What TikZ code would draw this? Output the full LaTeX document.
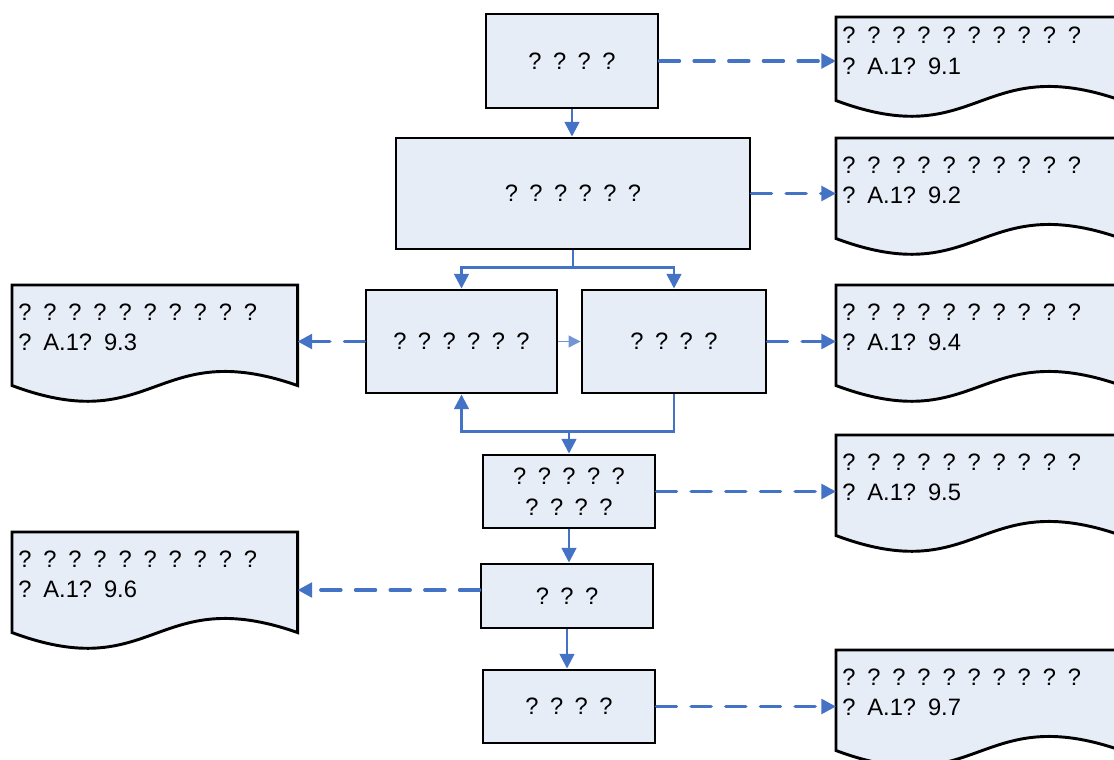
\documentclass[tikz,border=0pt]{standalone}
\usepackage{fontspec}
\setmainfont{Liberation Sans}[WordSpace=1.4]
\usetikzlibrary{arrows.meta,calc,backgrounds}
\definecolor{boxfill}{HTML}{E7EDF7}
\definecolor{linkblue}{HTML}{4472C4}
\begin{document}
\begin{tikzpicture}[x=0.75pt,y=-0.75pt,
  every node/.style={font=\fontsize{17.8pt}{23pt}\selectfont},
  box/.style={draw,line width=2.2pt,fill=boxfill,align=center,inner sep=0pt},
  doc/.style={anchor=north west,minimum width=213.75pt,minimum height=63pt,text width=204.75pt,inner xsep=4.5pt,inner ysep=0pt,align=left},
  docline/.style={draw,line width=2.2pt,fill=boxfill},
  flow/.style={draw=linkblue,line width=1.8pt,-{Triangle[length=11pt,width=11pt]}},
  ref/.style={flow,line width=2.6pt,line cap=round,dash pattern=on 15pt off 11pt}]
\useasboundingbox (0,0) rectangle (1114,760);

\node[box,minimum width=129pt,minimum height=70.5pt] (b1) at (572,61) {? ? ? ?};
\node[box,minimum width=265.5pt,minimum height=83.25pt] (b2) at (573,193.5) {? ? ? ? ? ?};
\node[box,minimum width=143.25pt,minimum height=77.25pt] (b3) at (461.5,341.5) {? ? ? ? ? ?};
\node[box,minimum width=138pt,minimum height=77.25pt] (b4) at (674,341.5) {? ? ? ?};
\node[box,minimum width=129pt,minimum height=54.75pt] (b5) at (569,491.5) {? ? ? ? ?\\? ? ? ?};
\node[box,minimum width=129pt,minimum height=48pt] (b6) at (567,596) {? ? ?};
\node[box,minimum width=129pt,minimum height=54.75pt] (b7) at (569,706.5) {? ? ? ?};

\node[doc,minimum height=50.25pt] (d1) at (836,17) {? ? ? ? ? ? ? ? ? ?\\? A.1? 9.1};
\node[doc] (d2) at (836,138) {? ? ? ? ? ? ? ? ? ?\\? A.1? 9.2};
\node[doc] (d3) at (12,285) {? ? ? ? ? ? ? ? ? ?\\? A.1? 9.3};
\node[doc] (d4) at (836,285) {? ? ? ? ? ? ? ? ? ?\\? A.1? 9.4};
\node[doc] (d5) at (836,435) {? ? ? ? ? ? ? ? ? ?\\? A.1? 9.5};
\node[doc] (d6) at (12,532) {? ? ? ? ? ? ? ? ? ?\\? A.1? 9.6};
\node[doc] (d7) at (836,650) {? ? ? ? ? ? ? ? ? ?\\? A.1? 9.7};

\begin{scope}[on background layer]
\foreach \doc in {d1,d2,d3,d4,d5,d6,d7}
  \path[docline] (\doc.north west) -- (\doc.north east) -- ([yshift=-12pt]\doc.south east)
    .. controls ($([yshift=-12pt]\doc.south)+(0pt,37.5pt)$) and ($([yshift=-12pt]\doc.south)+(0pt,-40pt)$) .. ([yshift=-12pt]\doc.south west) -- cycle;
\end{scope}

\draw[flow] (b1.south) -- (b1.south |- b2.north);
\draw[flow] (b2.south) -- ++(0,17) -| (b3.north);
\draw[flow] (b2.south) -- ++(0,17) -| (b4.north);
\draw[flow,draw=linkblue!75,line width=0.9pt,-{Triangle[length=9pt,width=9pt]}] (b3) -- (b4);
\draw[flow] (b4.south) -- ++(0,37) coordinate (j) -| (b3.south);
\draw[flow] (j -| b5.north) -- (b5.north);
\draw[flow] (b5.south) -- (b5.south |- b6.north);
\draw[flow] (b6.south) -- (b6.south |- b7.north);

\draw[ref] (b1.east) -- (b1.east -| d1.west);
\draw[ref] (b2.east) -- (b2.east -| d2.west);
\draw[ref] (b3.west) -- (b3.west -| d3.east);
\draw[ref] (b4.east) -- (b4.east -| d4.west);
\draw[ref] (b5.east) -- (b5.east -| d5.west);
\draw[ref] ([yshift=4.5pt]b6.west) -- ([yshift=4.5pt]b6.west -| d6.east);
\draw[ref] (b7.east) -- (b7.east -| d7.west);
\end{tikzpicture}
\end{document}
